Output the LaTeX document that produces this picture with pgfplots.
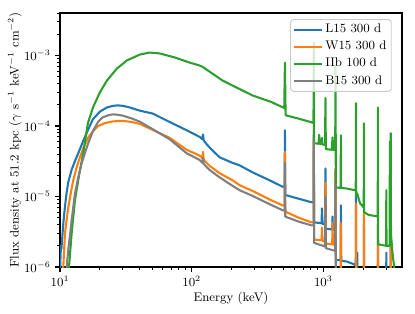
\documentclass[border=0pt]{standalone}
\usepackage{pgfplots}
\pgfplotsset{compat=1.18}
\definecolor{tabblue}{HTML}{1F77B4}
\definecolor{taborange}{HTML}{FF7F0E}
\definecolor{tabgreen}{HTML}{2CA02C}
\definecolor{tabgray}{HTML}{7F7F7F}
\begin{document}
\fontsize{9}{11}\selectfont
\begin{tikzpicture}[font=\fontsize{9}{11}\selectfont]
\path[use as bounding box] (-43.2pt,-33.12pt) rectangle (255.6pt,192.24pt);
\begin{axis}[
  at={(0pt,0pt)}, anchor=south west,
  scale only axis, width=246.24pt, height=182.88pt,
  xmode=log, ymode=log,
  xmin=10, xmax=3960, ymin=1e-6, ymax=4e-3,
  axis line style={line width=0.8pt, black},
  tick align=outside, tick pos=left,
  major tick length=3.5pt, minor tick length=2pt,
  every major tick/.style={line width=0.8pt, black},
  every minor tick/.style={line width=0.6pt, black},
  tick label style={font=\fontsize{9}{11}\selectfont},
  xlabel={Energy (keV)},
  ylabel={Flux density at 51.2 kpc ($\gamma$ s$^{-1}$ keV$^{-1}$ cm$^{-2}$)},
  xlabel style={at={(axis description cs:0.5,-0.122)}, anchor=center, font=\fontsize{9}{11}\selectfont},
  ylabel style={at={(axis description cs:-0.132,0.5)}, anchor=center, font=\fontsize{9}{11}\selectfont},
  legend cell align=left,
  legend style={at={(axis description cs:0.970,0.976)}, anchor=north east,
    draw=black!20, line width=0.7pt, fill=white, fill opacity=0.8, text opacity=1, draw opacity=1,
    rounded corners=2pt, inner xsep=1.5pt, inner ysep=1pt, row sep=0pt,
    nodes={inner ysep=2.1pt, inner xsep=2pt, text height=6.2pt, text depth=2pt},
    font=\fontsize{9}{11}\selectfont},
  legend image code/.code={\draw[#1] (0pt,0pt) -- (18pt,0pt); \path (0pt,0pt) -- (20pt,0pt);},
  every axis plot/.append style={line width=1.5pt, line join=round},
]
\addplot[tabblue] coordinates {
(10.0,8e-7) (10.1,1.5e-6) (10.18,2.0e-6) (10.25,1.8e-6) (10.4,2.6e-6) (10.6,4.2e-6)
(10.91,7.2e-6) (11.2,1.1e-5) (11.56,1.6e-5) (12.26,2.4e-5) (13.0,3.2e-5) (13.76,4.1e-5)
(14.6,5.4e-5) (15.47,7.0e-5) (16.4,9.0e-5) (17.8,1.25e-4) (20.1,1.6e-4) (22.7,1.83e-4)
(25.2,1.93e-4) (27.5,1.96e-4) (30.0,1.93e-4) (33.9,1.83e-4) (40.4,1.65e-4) (50.6,1.5e-4)
(68,1.14e-4) (91.6,8.7e-5) (115,7.0e-5) (120.5,6.5e-5) (122,7.6e-5) (123.5,6.2e-5)
(136,5.0e-5) (163,3.6e-5) (204,3.0e-5) (231,2.77e-5) (290,2.2e-5) (390,1.7e-5)
(489,1.38e-5) (508,1.35e-5) (511,8.7e-5) (514,1.06e-5) (525,1.04e-5) (650,9.3e-6)
(811,8.3e-6) (843,8.2e-6) (847,1.0e-4) (851,4.3e-6) (950,4.2e-6)
(970,4.2e-6) (977,6.8e-6) (984,4.1e-6)
(1030,4.0e-6) (1038,2.5e-5) (1046,3.5e-6)
(1168,3.4e-6) (1175,5.2e-6) (1182,3.4e-6)
(1230,3.3e-6) (1238,2.3e-5) (1246,1.25e-6)
(1352,1.25e-6) (1360,7.5e-6) (1368,1.22e-6)
(1500,1.2e-6) (1700,1.1e-6)
(1764,1.05e-6) (1771,1.1e-5) (1778,9.5e-7)
(1804,9e-7) (1810,1.6e-6) (1816,8.5e-7)
(1900,8e-7)
(2028,7e-7) (2035,4.2e-6) (2042,7e-7)
(2590,6e-7) (2598,4e-6) (2606,6e-7)
(3003,5e-7) (3010,1.6e-6) (3017,5e-7)
(3245,5e-7) (3253,7.5e-6) (3261,5e-7)
(3960,4e-7)
};
\addlegendentry{L15 300 d}
\addplot[taborange] coordinates {
(10.5,8e-7) (10.59,1.0e-6) (10.91,3.0e-6) (11.2,4.5e-6) (11.56,7.0e-6) (12.0,1.05e-5)
(12.61,1.7e-5) (13.3,2.5e-5) (14.17,3.6e-5) (15.2,5.1e-5) (16.39,6.9e-5) (17.8,8.4e-5)
(19.51,1.0e-4) (22.0,1.1e-4) (25.2,1.16e-4) (28.5,1.18e-4) (30,1.18e-4) (35,1.14e-4)
(40.4,1.07e-4) (50.6,8.8e-5) (68,6.8e-5) (91.6,4.6e-5) (115,3.8e-5)
(120.5,3.5e-5) (122,4.3e-5) (123.5,3.3e-5) (136,2.75e-5) (163,2.14e-5) (204,1.7e-5)
(231,1.45e-5) (290,1.2e-5) (390,9.1e-6) (489,7.5e-6)
(508,7.4e-6) (511,4.3e-5) (514,6.1e-6)
(525,6.0e-6) (650,5.0e-6) (811,4.3e-6)
(843,4.3e-6) (847,8.7e-5) (851,2.45e-6)
(970,2.4e-6) (977,3.6e-6) (984,2.35e-6)
(1030,2.3e-6) (1038,1.55e-5) (1046,2.15e-6)
(1168,2.1e-6) (1175,4.2e-6) (1182,2.1e-6)
(1230,2.05e-6) (1238,2.5e-5) (1246,5e-7)
(1352,5e-7) (1360,4.2e-6) (1368,5e-7)
(1764,4e-7) (1771,8e-6) (1778,4e-7)
(2028,4e-7) (2035,6.4e-6) (2042,4e-7)
(2590,3e-7) (2598,5e-6) (2606,3e-7)
(3245,3e-7) (3253,4.6e-6) (3261,3e-7)
(3960,3e-7)
};
\addlegendentry{W15 300 d}
\addplot[tabgreen] coordinates {
(11.5,7e-7) (11.7,1.0e-6) (12.26,3.0e-6) (12.99,8.9e-6) (14.17,2.35e-5) (15.0,4.1e-5)
(16.3,1.1e-4) (17.8,1.83e-4) (20.1,3.0e-4) (22.7,4.4e-4) (27.0,6.5e-4) (32.2,8.5e-4)
(40.4,1.03e-3) (48,1.10e-3) (57,1.07e-3) (74,9.4e-4) (97,7.9e-4) (115,7.2e-4)
(121,6.9e-4) (172,4.4e-4) (204,3.75e-4) (290,2.71e-4) (400,2.2e-4)
(505,1.8e-4) (511,7.9e-4) (517,1.42e-4)
(650,1.27e-4) (811,1.13e-4)
(842,1.1e-4) (847,1.5e-3) (852,5.7e-5)
(920,5.6e-5) (930,7.5e-5) (940,5.6e-5)
(970,5.6e-5) (977,6.8e-5) (984,5.5e-5)
(1031,5.4e-5) (1038,2.5e-4) (1045,4.7e-5)
(1160,4.6e-5) (1175,6.9e-5) (1190,4.6e-5)
(1231,4.6e-5) (1238,7.2e-4) (1245,1.35e-5)
(1353,1.32e-5) (1360,7.4e-5) (1367,1.32e-5)
(1500,1.3e-5)
(1764,1.22e-5) (1771,2.1e-4) (1778,1.0e-5)
(1810,1.1e-5) (1900,8e-6)
(2028,7e-6) (2035,1.09e-4) (2042,6e-6)
(2200,5.5e-6)
(2590,5.2e-6) (2598,1.83e-4) (2606,2.1e-6)
(3000,2e-6) (3010,1.23e-5) (3020,2e-6)
(3190,2e-6) (3202,6e-5) (3215,6e-6) (3253,7.9e-5) (3265,3e-6)
(3350,1.6e-6) (3500,8e-7) (3960,5e-7)
};
\addlegendentry{IIb 100 d}
\addplot[tabgray] coordinates {
(11.1,8e-7) (11.24,1.0e-6) (11.5,1.6e-6) (11.9,2.8e-6) (12.26,4.6e-6) (12.99,1.1e-5)
(13.7,1.8e-5) (14.6,2.96e-5) (15.5,4.2e-5) (16.39,5.7e-5) (17.8,8.5e-5) (19.51,1.15e-4)
(21,1.32e-4) (23.5,1.43e-4) (25.2,1.46e-4) (27,1.45e-4) (30,1.4e-4) (35,1.28e-4)
(40.4,1.15e-4) (50.6,9.0e-5) (68,6.5e-5) (91.6,4.1e-5) (115,3.3e-5)
(120.5,3.0e-5) (122,3.5e-5) (123.5,2.9e-5) (136,2.4e-5) (163,1.87e-5) (204,1.42e-5)
(231,1.23e-5) (290,1.02e-5) (390,7.8e-6) (489,6.4e-6)
(508,6.3e-6) (511,3.0e-5) (514,5.2e-6)
(525,5.1e-6) (650,4.4e-6) (811,3.9e-6)
(843,3.9e-6) (847,6e-5) (851,2.2e-6)
(1030,1.95e-6) (1038,1.0e-5) (1046,1.85e-6)
(1169,1.74e-6) (1230,1.7e-6) (1238,1.5e-5) (1246,4e-7)
(3960,3e-7)
};
\addlegendentry{B15 300 d}
\end{axis}
\end{tikzpicture}
\end{document}
